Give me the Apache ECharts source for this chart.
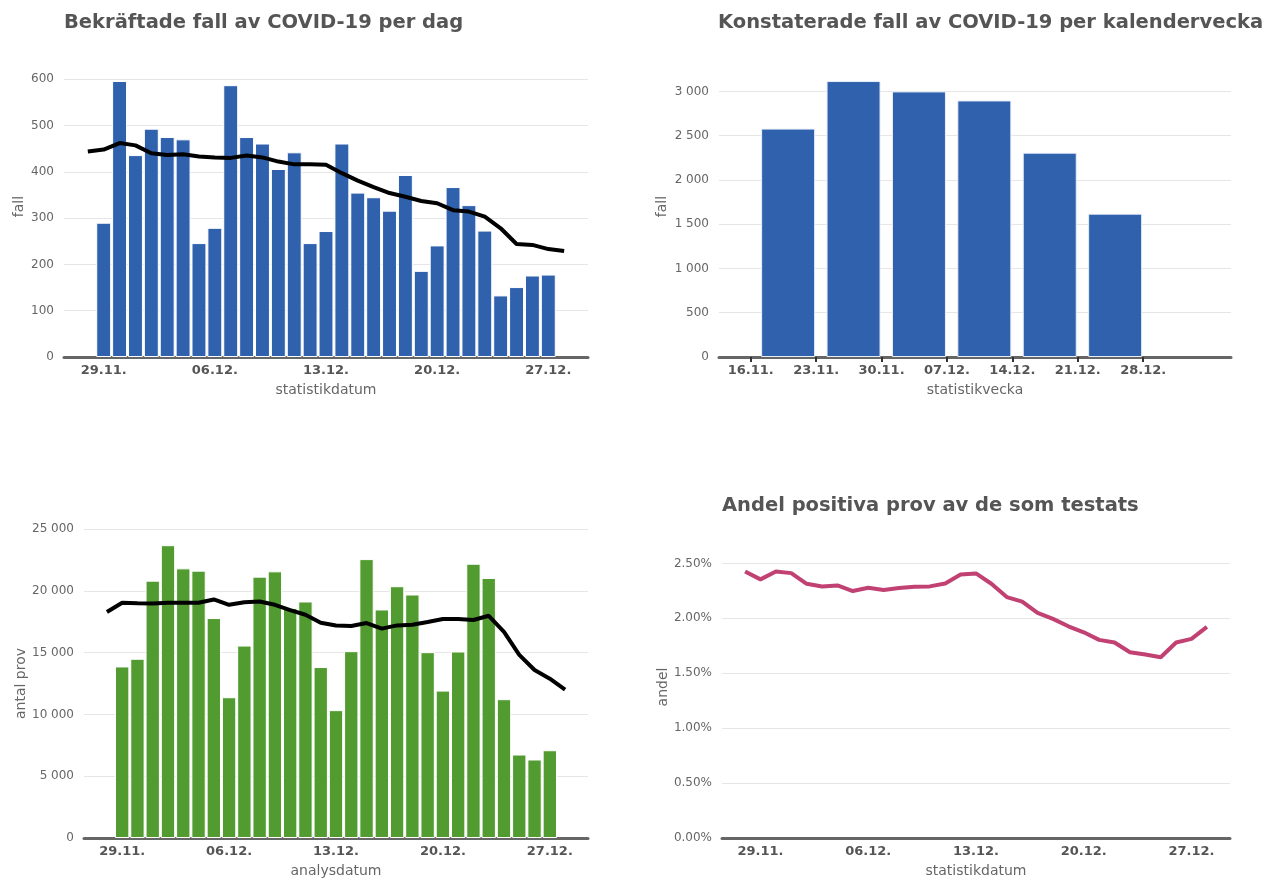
<!DOCTYPE html>
<html>
<head>
<meta charset="utf-8">
<script src="https://cdn.jsdelivr.net/npm/echarts@6/dist/echarts.min.js"></script>
<style>
  html, body { margin: 0; padding: 0; background: #fff; }
  #chart { width: 1269px; height: 879px; }
</style>
</head>
<body>
<div id="chart"></div>
<script>
// dagar på x-axeln (27.11. - 29.12.)
var dayLabels = ['27.11.', '28.11.', '29.11.', '30.11.', '01.12.', '02.12.', '03.12.', '04.12.', '05.12.',
  '06.12.', '07.12.', '08.12.', '09.12.', '10.12.', '11.12.', '12.12.', '13.12.', '14.12.', '15.12.',
  '16.12.', '17.12.', '18.12.', '19.12.', '20.12.', '21.12.', '22.12.', '23.12.', '24.12.', '25.12.',
  '26.12.', '27.12.', '28.12.', '29.12.'];
var tickDays = ['29.11.', '06.12.', '13.12.', '20.12.', '27.12.'];

// bekräftade fall per dag, 29.11. - 27.12.
var dailyCases = [290, 596, 436, 493, 475, 470, 246, 279, 587, 475, 461, 406, 442, 246, 272,
  461, 355, 345, 316, 393, 186, 241, 367, 328, 273, 133, 151, 176, 178];
// glidande medel, 28.11. - 28.12.
var dailyCasesAvg = [444, 448, 462, 457, 440, 436, 438, 433, 431, 430, 435, 431, 422, 416, 416,
  415, 397, 381, 367, 354, 346, 337, 332, 317, 314, 303, 278, 244, 242, 233, 229];

// fall per kalendervecka
var weekLabels = ['16.11.', '23.11.', '30.11.', '07.12.', '14.12.', '21.12.', '28.12.'];
var weeklyCases = [2580, 3117, 3000, 2898, 2308, 1619];

// antal prov per analysdatum, 29.11. - 27.12.
var dailyTests = [13880, 14500, 20820, 23690, 21815, 21630, 17795, 11390, 15570, 21145, 21575,
  18600, 19135, 13830, 10345, 15115, 22565, 18490, 20370, 19700, 15035, 11925, 15090, 22190,
  21040, 11230, 6754, 6352, 7100];
// glidande medel, 28.11. - 28.12.
var dailyTestsAvg = [18280, 19030, 19000, 18975, 19030, 19030, 19030, 19300, 18870, 19080, 19135,
  18870, 18440, 18060, 17420, 17200, 17150, 17390, 16940, 17200, 17260, 17470, 17715, 17715,
  17635, 17980, 16670, 14820, 13590, 12890, 12010];

// andel positiva (%), 28.11. - 28.12.
var positiveShare = [2.427, 2.355, 2.427, 2.412, 2.315, 2.291, 2.300, 2.249, 2.279, 2.258, 2.276,
  2.288, 2.291, 2.318, 2.400, 2.409, 2.315, 2.194, 2.152, 2.049, 1.995, 1.928, 1.873, 1.804,
  1.780, 1.692, 1.671, 1.646, 1.780, 1.813, 1.922];

var BLUE = '#2f61ad';
var GREEN = '#529b30';
var PINK = '#c04172';
var FONT = 'DejaVu Sans';
var GRID_COLOR = '#e6e6e6';

// lägg in värden på rätt dag
function onDays(values, firstDay) {
  var start = dayLabels.indexOf(firstDay);
  return dayLabels.map(function (d, i) {
    var v = values[i - start];
    return v === undefined ? null : v;
  });
}

function thousands(v) {
  return String(v).replace(/\B(?=(\d{3})+(?!\d))/g, ' ');
}

function showDay(i, v) {
  return tickDays.indexOf(v) >= 0;
}

function dayAxis(idx, name) {
  return {
    type: 'category',
    gridIndex: idx,
    data: dayLabels,
    name: name,
    nameLocation: 'middle',
    nameGap: 26,
    nameTextStyle: { color: '#666', fontSize: 14, fontFamily: FONT },
    axisLine: { lineStyle: { color: '#666', width: 3 } },
    axisTick: { alignWithLabel: true, interval: showDay, length: 5, lineStyle: { color: '#333', width: 2 } },
    axisLabel: { interval: showDay, margin: 7, color: '#555', fontWeight: 'bold', fontSize: 13, fontFamily: FONT },
    splitLine: { show: false }
  };
}

// ytterligare tick på max döljs
function gridLines(n) {
  var c = [];
  for (var i = 0; i < n; i++) c.push(GRID_COLOR);
  c.push('rgba(0,0,0,0)');
  return { show: true, lineStyle: { color: c, width: 1 } };
}

function valueAxis(idx, name, max, interval, fmt, nameGap) {
  return {
    type: 'value',
    gridIndex: idx,
    min: 0,
    max: max,
    interval: interval,
    name: name,
    nameLocation: 'middle',
    nameGap: nameGap,
    nameTextStyle: { color: '#666', fontSize: 14, fontFamily: FONT },
    axisLine: { show: false },
    axisTick: { show: false },
    axisLabel: {
      margin: 10, color: '#666', fontSize: 12, fontFamily: FONT,
      formatter: function (v) {
        if (Math.abs(v / interval - Math.round(v / interval)) > 1e-6) return '';
        return fmt(v);
      }
    },
    splitLine: gridLines(Math.floor(max / interval + 1e-6) + 1)
  };
}

var titleStyle = { color: '#555', fontSize: 19.5, fontWeight: 'bold', fontFamily: FONT };

var option = {
  animation: false,
  backgroundColor: '#fff',
  title: [
    { text: 'Bekräftade fall av COVID-19 per dag', left: 64, top: 13, padding: 0, textStyle: titleStyle },
    { text: 'Konstaterade fall av COVID-19 per kalendervecka', left: 718, top: 13, padding: 0, textStyle: titleStyle },
    { text: 'Andel positiva prov av de som testats', left: 722, top: 496, padding: 0, textStyle: titleStyle }
  ],
  grid: [
    { left: 64, right: 681, top: 56, bottom: 522 },
    { left: 719, right: 38, top: 56, bottom: 522 },
    { left: 84, right: 681, top: 529, bottom: 40 },
    { left: 722, right: 39, top: 536, bottom: 40 }
  ],
  xAxis: [
    dayAxis(0, 'statistikdatum'),
    {
      type: 'value',
      gridIndex: 1,
      min: -3.4,
      max: 51.4,
      name: 'statistikvecka',
      nameLocation: 'middle',
      nameGap: 26,
      nameTextStyle: { color: '#666', fontSize: 14, fontFamily: FONT },
      axisLine: { onZero: false, lineStyle: { color: '#666', width: 3 } },
      axisTick: {
        customValues: weekLabels.map(function (w, i) { return i * 7; }),
        length: 5, lineStyle: { color: '#333', width: 2 }
      },
      axisLabel: {
        customValues: weekLabels.map(function (w, i) { return i * 7; }),
        margin: 7, color: '#555', fontWeight: 'bold', fontSize: 13, fontFamily: FONT,
        formatter: function (v) { return weekLabels[Math.round(v / 7)] || ''; }
      },
      splitLine: { show: false }
    },
    dayAxis(2, 'analysdatum'),
    dayAxis(3, 'statistikdatum')
  ],
  yAxis: [
    valueAxis(0, 'fall', 650, 100, thousands, 38),
    valueAxis(1, 'fall', 3400, 500, thousands, 50),
    valueAxis(2, 'antal prov', 25000, 5000, thousands, 56),
    valueAxis(3, 'andel', 2.75, 0.5, function (v) { return v.toFixed(2) + '%'; }, 52)
  ],
  series: [
    {
      type: 'bar', xAxisIndex: 0, yAxisIndex: 0,
      data: onDays(dailyCases, '29.11.'),
      barCategoryGap: '6%',
      itemStyle: { color: BLUE, borderColor: '#fff', borderWidth: 1 }
    },
    {
      type: 'line', xAxisIndex: 0, yAxisIndex: 0,
      data: onDays(dailyCasesAvg, '28.11.'),
      showSymbol: false,
      lineStyle: { color: '#000', width: 4 },
      itemStyle: { color: '#000' }
    },
    {
      type: 'bar', xAxisIndex: 1, yAxisIndex: 1,
      data: weeklyCases.map(function (v, i) { return [i * 7 + 4, v]; }),
      barWidth: 54,
      itemStyle: { color: BLUE, borderColor: '#e8eef8', borderWidth: 1 }
    },
    {
      type: 'bar', xAxisIndex: 2, yAxisIndex: 2,
      data: onDays(dailyTests, '29.11.'),
      barCategoryGap: '6%',
      itemStyle: { color: GREEN, borderColor: '#fff', borderWidth: 1 }
    },
    {
      type: 'line', xAxisIndex: 2, yAxisIndex: 2,
      data: onDays(dailyTestsAvg, '28.11.'),
      showSymbol: false,
      lineStyle: { color: '#000', width: 4 },
      itemStyle: { color: '#000' }
    },
    {
      type: 'line', xAxisIndex: 3, yAxisIndex: 3,
      data: onDays(positiveShare, '28.11.'),
      showSymbol: false,
      lineStyle: { color: PINK, width: 4 },
      itemStyle: { color: PINK }
    }
  ]
};

var chart = echarts.init(document.getElementById('chart'));
chart.setOption(option);
</script>
</body>
</html>
